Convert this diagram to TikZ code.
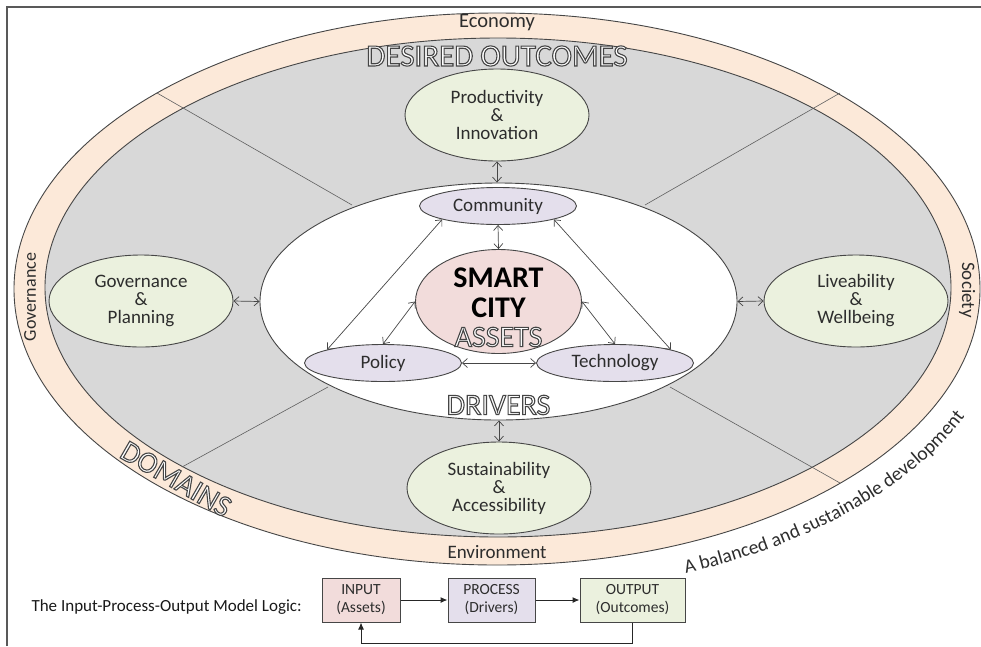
\documentclass[tikz,border=0pt]{standalone}
\usepackage{fontspec}
\setmainfont{Carlito}
\usetikzlibrary{shapes.geometric,arrows.meta,decorations.text}
\definecolor{bandc}{RGB}{252,233,217}
\definecolor{grayc}{RGB}{216,216,216}
\definecolor{greenc}{RGB}{235,241,222}
\definecolor{purplec}{RGB}{228,223,236}
\definecolor{pinkc}{RGB}{242,220,219}
\definecolor{linec}{RGB}{70,70,70}
\definecolor{txtc}{RGB}{45,45,45}
\newcommand{\hollowtext}[1]{{\color{white}\special{pdf:literal direct 2 Tr 1.1 w 0.27 0.27 0.27 RG}#1\special{pdf:literal direct 0 Tr 0.4 w}}}
\begin{document}
\begin{tikzpicture}[x=1pt,y=-1pt,
  ell/.style={ellipse, draw=linec, line width=0.9pt, inner sep=0pt},
  outcome/.style={ell, fill=greenc, minimum width=184pt, minimum height=92pt, align=center, font=\fontsize{19}{18}\selectfont, text=txtc},
  driver/.style={ell, fill=purplec, minimum width=157pt, minimum height=37pt, font=\fontsize{19}{19}\selectfont, text=txtc},
  dbl/.style={{Straight Barb[length=5pt,width=9pt]}-{Straight Barb[length=5pt,width=9pt]}, line width=0.7pt, draw=linec},
  hollow/.style={font=\fontsize{30}{30}\selectfont, inner sep=0pt},
  bandtext/.style={font=\fontsize{19}{20}\selectfont, text=txtc},
  radial/.style={draw=gray!75!black, line width=0.6pt},
  ipo/.style={draw=linec, line width=1pt, minimum height=44pt, align=center, inner sep=0pt, font=\fontsize{15.5}{18}\selectfont, text=txtc},
  flow/.style={-{Latex[length=7pt,width=6pt]}, line width=1pt, draw=black!85}
]
\useasboundingbox (0,0) rectangle (981,646);
% frame
\draw[line width=1.3pt, draw=gray!70!black] (7,646) -- (7,7) -- (981,7);
% rings
\node[ell, fill=bandc, minimum width=966pt, minimum height=552pt] (dom) at (497,289) {};
\node[ell, fill=grayc, minimum width=906pt, minimum height=499pt] (outc) at (498,287.5) {};
% radial separators
\draw[radial] (157,93) -- (352,205);
\draw[radial] (840,93) -- (645,205);
\draw[radial] (840,483) -- (670,387);
\draw[radial] (182,467) -- (328,387);
% inner drivers ellipse
\node[ell, fill=white, minimum width=477pt, minimum height=237pt] (drv) at (498.5,301.5) {};
% outcomes
\node[outcome] (prod) at (497,115) {Productivity\\\&\\Innovation};
\node[outcome] (gov) at (141,301) {Governance\\\&\\Planning};
\node[outcome] (live) at (856,301) {Liveability\\\&\\Wellbeing};
\node[outcome] (sust) at (499,488) {Sustainability\\\&\\Accessibility};
% drivers
\node[driver] (comm) at (498,206) {Community};
\node[driver] (pol) at (383,363) {Policy};
\node[driver] (tech) at (615,363) {Technology};
% smart city
\node[ell, fill=pinkc, minimum width=166pt, minimum height=104pt] (sc) at (498.5,301.5) {};
\node[font=\fontsize{30}{30}\selectfont\bfseries, align=center, text=black] (sctxt) at (498.5,293) {SMART\\CITY};
\node[hollow] (assets) at (498.5,337) {\hollowtext{ASSETS}};
\node[hollow] (drivers) at (498.5,405) {\hollowtext{DRIVERS}};
\node[hollow, font=\fontsize{31}{31}\selectfont] (desired) at (497,56) {\hollowtext{DESIRED OUTCOMES}};
\node[hollow, rotate=-30] (domains) at (176,479) {\hollowtext{DOMAINS}};
% band labels
\node[bandtext, font=\fontsize{20.5}{20}\selectfont] (econ) at (497,23) {Economy};
\node[bandtext] (env) at (497,552) {Environment};
\node[bandtext, font=\fontsize{18}{20}\selectfont, rotate=90] (govb) at (30,297) {Governance};
\node[bandtext, rotate=-90] (soc) at (967,290) {Society};
% connectors
\draw[dbl] (prod.south) -- (prod.south |- drv.north);
\draw[dbl] (sust.north) -- (sust.north |- drv.south);
\draw[dbl] (gov.east) -- (drv.west);
\draw[dbl] (live.west) -- (drv.east);
\draw[dbl] (comm.south) -- (sc.north);
\draw[dbl] (comm.south west) -- (pol.north west);
\draw[dbl] (comm.south east) -- (tech.north east);
\draw[dbl] (sc.west) -- (pol.north);
\draw[dbl] (sc.east) -- (tech.north);
\draw[dbl] (pol.east) -- (tech.west);
% curved slogan
\path[decorate, decoration={text along path, text color=txtc,
  text={|\fontsize{19.5}{19.5}\selectfont|A balanced and sustainable development}}]
  (497,289) ++(68.5:515 and 306) arc[start angle=68.5, end angle=8, x radius=515, y radius=306];
% IPO model
\node[anchor=west, font=\fontsize{17}{18}\selectfont, text=black!90] (ipolab) at (28,607) {The Input-Process-Output Model Logic:};
\node[ipo, fill=pinkc, minimum width=78pt] (inp) at (361,600) {INPUT\\(Assets)};
\node[ipo, fill=purplec, minimum width=87pt] (proc) at (491.5,600) {PROCESS\\(Drivers)};
\node[ipo, fill=greenc, minimum width=105pt] (outp) at (632.5,600) {OUTPUT\\(Outcomes)};
\draw[flow] (inp) -- (proc);
\draw[flow] (proc) -- (outp);
\draw[flow] (outp.south) -- ++(0,21) -| (inp.south);
\end{tikzpicture}
\end{document}
